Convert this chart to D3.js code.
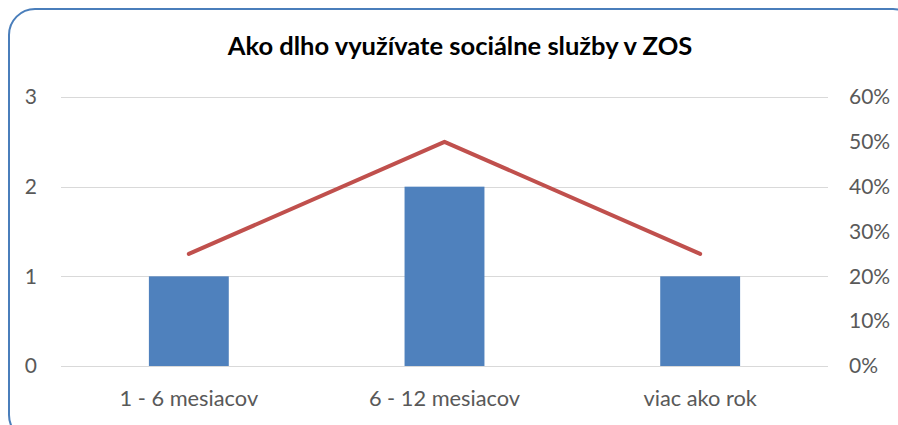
<!DOCTYPE html>
<html>
<head>
<meta charset="utf-8">
<script src="https://cdn.jsdelivr.net/npm/d3@7"></script>
<style>
  html, body { margin: 0; padding: 0; background: #fff; }
  svg { display: block; }
</style>
</head>
<body>
<svg id="chart" width="898" height="425"></svg>
<script>
// Chart data
const title = "Ako dlho využívate sociálne služby v ZOS";
const categories = ["1 - 6 mesiacov", "6 - 12 mesiacov", "viac ako rok"];
const counts = [1, 2, 1];          // bars, left axis
const shares = [0.25, 0.5, 0.25];  // line, right axis
const leftTicks = [0, 1, 2, 3];
const rightTicks = [0, 0.1, 0.2, 0.3, 0.4, 0.5, 0.6];

const W = 898, H = 425;
const plot = { left: 61, right: 828, top: 97, bottom: 366 };
const font = "Lato, 'Noto Sans', sans-serif";
const textColor = "#595959";

const svg = d3.select("#chart");

// Chart frame with rounded corners (partly runs off the canvas)
svg.append("rect")
  .attr("x", 9).attr("y", 9)
  .attr("width", 910).attr("height", 432)
  .attr("rx", 26).attr("ry", 26)
  .attr("fill", "#fff")
  .attr("stroke", "#4A7EBB")
  .attr("stroke-width", 2);

const x = d3.scaleBand()
  .domain(categories)
  .range([plot.left, plot.right])
  .paddingInner(0.6875)
  .paddingOuter(0.34375);

const yLeft = d3.scaleLinear().domain([0, 3]).range([plot.bottom, plot.top]);
const yRight = d3.scaleLinear().domain([0, 0.6]).range([plot.bottom, plot.top]);

// Horizontal gridlines
svg.append("g")
  .selectAll("line")
  .data(leftTicks)
  .join("line")
  .attr("x1", plot.left).attr("x2", plot.right)
  .attr("y1", d => Math.round(yLeft(d)) + 0.5)
  .attr("y2", d => Math.round(yLeft(d)) + 0.5)
  .attr("stroke", "#D9D9D9")
  .attr("stroke-width", 1);

// Left axis
const leftAxis = svg.append("g")
  .attr("transform", `translate(${plot.left},0)`)
  .call(d3.axisLeft(yLeft).tickValues(leftTicks).tickFormat(d3.format("d")).tickSize(0).tickPadding(24));
leftAxis.select(".domain").remove();
leftAxis.selectAll("text")
  .attr("fill", textColor)
  .style("font-family", font)
  .style("font-size", "21px");

// Right axis
const rightAxis = svg.append("g")
  .attr("transform", `translate(${plot.right},0)`)
  .call(d3.axisRight(yRight).tickValues(rightTicks).tickFormat(d3.format(".0%")).tickSize(0).tickPadding(21));
rightAxis.select(".domain").remove();
rightAxis.selectAll("text")
  .attr("fill", textColor)
  .style("font-family", font)
  .style("font-size", "21px");

// Bottom category labels
const bottomAxis = svg.append("g")
  .attr("transform", `translate(0,${plot.bottom})`)
  .call(d3.axisBottom(x).tickSize(0).tickPadding(25));
bottomAxis.select(".domain").remove();
bottomAxis.selectAll("text")
  .attr("fill", textColor)
  .style("font-family", font)
  .style("font-size", "21.8px");

// Bars
svg.append("g")
  .selectAll("rect")
  .data(categories.map((c, i) => ({ c, v: counts[i] })))
  .join("rect")
  .attr("x", d => x(d.c))
  .attr("width", x.bandwidth())
  .attr("y", d => yLeft(d.v))
  .attr("height", d => yLeft(0) - yLeft(d.v))
  .attr("fill", "#4F81BD");

// Percentage line
const line = d3.line()
  .x(d => x(d.c) + x.bandwidth() / 2)
  .y(d => yRight(d.v));
svg.append("path")
  .datum(categories.map((c, i) => ({ c, v: shares[i] })))
  .attr("d", line)
  .attr("fill", "none")
  .attr("stroke", "#C0504D")
  .attr("stroke-width", 4)
  .attr("stroke-linecap", "round")
  .attr("stroke-linejoin", "round");

// Title
svg.append("text")
  .attr("x", 460).attr("y", 55)
  .attr("text-anchor", "middle")
  .attr("fill", "#000")
  .style("font-family", font)
  .style("font-weight", "bold")
  .style("font-size", "25.5px")
  .text(title);
</script>
</body>
</html>
